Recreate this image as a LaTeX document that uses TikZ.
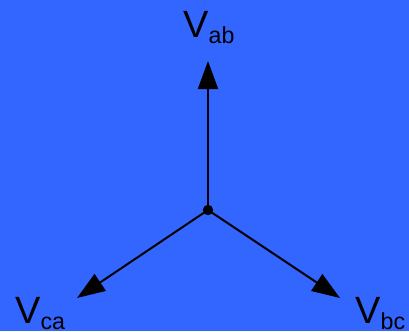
\documentclass[tikz,border=0pt]{standalone}
\usepackage{fontspec}
\setmainfont{Liberation Sans}
\usetikzlibrary{arrows.meta}
\definecolor{bgblue}{HTML}{3366FF}
\newcommand{\phv}[1]{{\fontsize{27}{30}\selectfont V}\raisebox{-4.3pt}{\fontsize{16.5}{18}\selectfont #1}}
\tikzset{
  phasor/.style={-{Triangle[length=7mm, width=5mm]}, line width=1.4pt, draw=black},
  lbl/.style={inner sep=0pt, anchor=base west, text=black},
  hub/.style={circle, fill=black, inner sep=0pt, minimum size=2.6mm},
}
\begin{document}
\begin{tikzpicture}[x=0.025cm, y=-0.025cm]
  \fill[bgblue] (0,0) rectangle (409,331);
  \useasboundingbox (0,0) rectangle (409,331);

  \node[hub] (o) at (208,210) {};
  \coordinate (ab) at (208,61);
  \coordinate (ca) at (77,298);
  \coordinate (bc) at (340,298);

  \draw[phasor] (o.center) -- (ab);
  \draw[phasor] (o.center) -- (ca);
  \draw[phasor] (o.center) -- (bc);

  \node[lbl] (vab) at (183,37) {\phv{ab}};
  \node[lbl] (vca) at (15,323) {\phv{ca}};
  \node[lbl] (vbc) at (355,323) {\phv{bc}};
\end{tikzpicture}
\end{document}
